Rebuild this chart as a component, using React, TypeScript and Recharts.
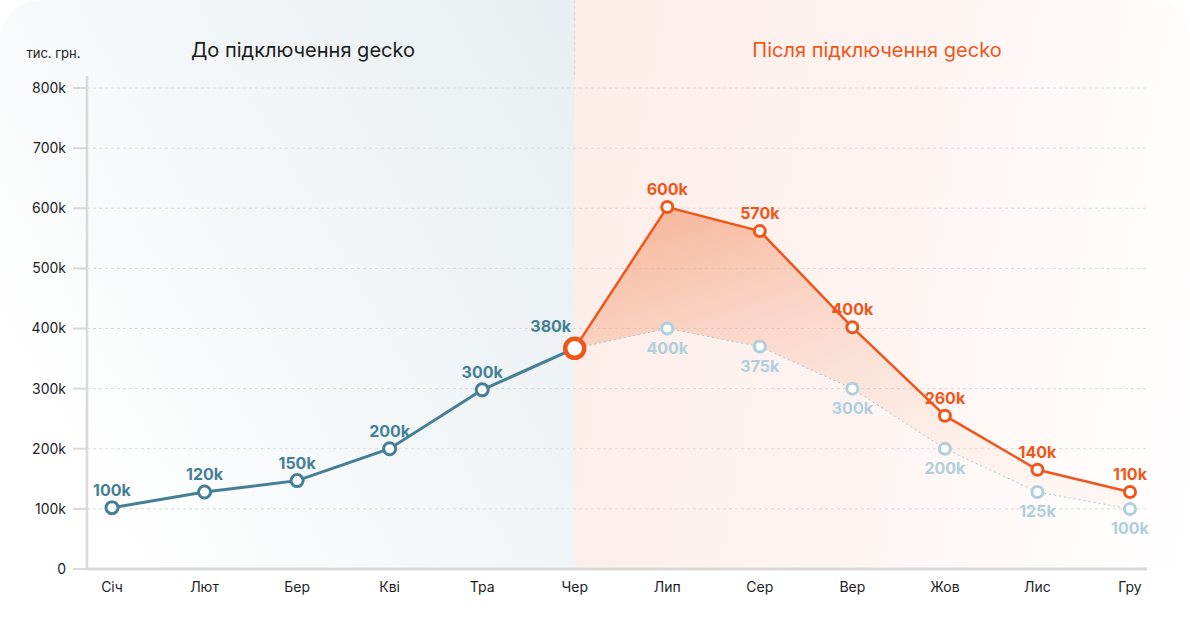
import React from 'react';
import {
  ComposedChart,
  Line,
  Area,
  XAxis,
  YAxis,
  CartesianGrid,
  LabelList,
  ReferenceLine,
} from 'recharts';

const months = ['Січ', 'Лют', 'Бер', 'Кві', 'Тра', 'Чер', 'Лип', 'Сер', 'Вер', 'Жов', 'Лис', 'Гру'];
const beforeValues = [102000, 128000, 147000, 200000, 298000, 367000, null, null, null, null, null, null];
const afterValues = [null, null, null, null, null, 367000, 602000, 562000, 402000, 255000, 165000, 128000];
const baselineValues = [null, null, null, null, null, 367000, 400000, 370000, 300000, 200000, 128000, 100000];
const beforeLabels = ['100k', '120k', '150k', '200k', '300k', '380k', '', '', '', '', '', ''];
const afterLabels = ['', '', '', '', '', '', '600k', '570k', '400k', '260k', '140k', '110k'];
const baselineLabels = ['', '', '', '', '', '', '400k', '375k', '300k', '200k', '125k', '100k'];
const yTicks = [0, 100000, 200000, 300000, 400000, 500000, 600000, 700000, 800000];

const data = months.map((m, i) => ({
  month: m,
  before: beforeValues[i],
  after: afterValues[i],
  baseline: baselineValues[i],
  range:
    afterValues[i] != null && baselineValues[i] != null
      ? [baselineValues[i], afterValues[i]]
      : null,
}));

const FONT = 'Inter, "Noto Sans", sans-serif';
const BLUE = '#457f96';
const ORANGE = '#ef561a';
const LIGHT = '#aecfdb';
const LIGHT_LINE = '#a7c6d2';
const SPLIT = 5;

// layout constants
const W = 1190;
const H = 628;
const Y_W = 87;
const M_RIGHT = 43;
const PAD_L = 25;
const PAD_R = 17;
const STEP = (W - Y_W - M_RIGHT - PAD_L - PAD_R) / (months.length - 1);
const SPLIT_X = Math.round(Y_W + PAD_L + SPLIT * STEP);

const fmt = (v: number) => (v === 0 ? '0' : `${v / 1000}k`);

const blueDot = (props: any) => {
  const { cx, cy, index } = props;
  if (cx == null || cy == null || index >= SPLIT) return <g key={`bd-${index}`} />;
  return <circle key={`bd-${index}`} cx={cx} cy={cy} r={6} fill="#fff" stroke={BLUE} strokeWidth={3} />;
};

const orangeDot = (props: any) => {
  const { cx, cy, index } = props;
  if (cx == null || cy == null || index < SPLIT) return <g key={`od-${index}`} />;
  if (index === SPLIT)
    return <circle key={`od-${index}`} cx={cx} cy={cy} r={9.5} fill="#fff" stroke={ORANGE} strokeWidth={4.5} />;
  return <circle key={`od-${index}`} cx={cx} cy={cy} r={5.5} fill="#fff" stroke={ORANGE} strokeWidth={3} />;
};

const grayDot = (props: any) => {
  const { cx, cy, index } = props;
  if (cx == null || cy == null || index <= SPLIT) return <g key={`gd-${index}`} />;
  return <circle key={`gd-${index}`} cx={cx} cy={cy} r={5.5} fill="#fff" stroke={LIGHT} strokeWidth={3} />;
};

const makeLabel = (labels: string[], color: string, below: boolean) => (props: any) => {
  const { x, y, index } = props;
  const text = labels[index];
  if (!text || x == null || y == null) return null;
  let dx = 0;
  let dy = below ? 25 : -12;
  if (!below && index === SPLIT) {
    dx = -24;
    dy = -16;
  }
  return (
    <text
      x={x + dx}
      y={y + dy}
      textAnchor="middle"
      fill={color}
      fontFamily={FONT}
      fontSize={16}
      fontWeight={700}
    >
      {text}
    </text>
  );
};

const dividerShape = (props: any) => {
  const { x1, x2, y2 } = props;
  return <line x1={x1} y1={0} x2={x2} y2={y2} stroke="#d6d6d6" strokeWidth={1} strokeDasharray="3 3" />;
};

export default function App() {
  return (
    <div
      style={{
        position: 'fixed',
        left: 0,
        top: 0,
        width: W,
        height: H,
        background: '#fff',
        overflow: 'hidden',
        fontFamily: FONT,
      }}
    >
      <div
        style={{
          position: 'absolute',
          left: 0,
          top: 0,
          width: SPLIT_X,
          height: 569,
          borderTopLeftRadius: 40,
          background: 'linear-gradient(60deg, #ffffff 15%, #f4f7f8 50%, #e8eef1 100%)',
        }}
      />
      <div
        style={{
          position: 'absolute',
          left: SPLIT_X,
          top: 0,
          width: W - SPLIT_X,
          height: 569,
          borderTopRightRadius: 40,
          background: 'linear-gradient(100deg, #fdede8 0%, #fdf3f0 45%, #fffbfa 80%, #ffffff 100%)',
        }}
      />
      <div
        style={{
          position: 'absolute',
          left: 0,
          top: 45,
          width: 107,
          textAlign: 'center',
          fontSize: 13,
          color: '#1d1d1f',
        }}
      >
        тис. грн.
      </div>
      <div
        style={{
          position: 'absolute',
          left: 103,
          top: 38,
          width: 400,
          textAlign: 'center',
          fontSize: 20,
          color: '#1a1a1a',
        }}
      >
        До підключення gecko
      </div>
      <div
        style={{
          position: 'absolute',
          left: 677,
          top: 38,
          width: 400,
          textAlign: 'center',
          fontSize: 20,
          color: ORANGE,
        }}
      >
        Після підключення gecko
      </div>
      <div style={{ position: 'absolute', left: 0, top: 0 }}>
        <ComposedChart
          width={W}
          height={H}
          data={data}
          margin={{ top: 76, right: M_RIGHT, bottom: 29, left: 0 }}
        >
          <defs>
            <linearGradient id="rangeFill" x1="0" y1="0" x2="0.5" y2="1">
              <stop offset="0%" stopColor="#f08a5c" stopOpacity={0.62} />
              <stop offset="45%" stopColor="#f5a07c" stopOpacity={0.32} />
              <stop offset="100%" stopColor="#fbd2c0" stopOpacity={0.15} />
            </linearGradient>
          </defs>
          <CartesianGrid
            vertical={false}
            stroke="#d9d9d9"
            strokeDasharray="3 3"
            horizontalValues={yTicks}
          />
          <ReferenceLine x="Чер" shape={dividerShape} ifOverflow="visible" />
          <XAxis
            dataKey="month"
            type="category"
            interval={0}
            padding={{ left: PAD_L, right: PAD_R }}
            axisLine={{ stroke: '#d9d9d9', strokeWidth: 3 }}
            tickLine={false}
            tickSize={6}
            tickMargin={7}
            height={30}
            tick={{ fill: '#1d1d1f', fontSize: 14, fontFamily: FONT }}
          />
          <YAxis
            type="number"
            domain={[0, 820000]}
            ticks={yTicks}
            tickFormatter={fmt}
            width={Y_W}
            axisLine={{ stroke: '#d9d9d9', strokeWidth: 2.5 }}
            tickLine={{ stroke: '#d9d9d9', strokeWidth: 2 }}
            tickSize={14}
            tickMargin={7}
            tick={{ fill: '#1d1d1f', fontSize: 14, fontFamily: FONT }}
          />
          <Area
            dataKey="range"
            type="linear"
            stroke="none"
            fill="url(#rangeFill)"
            fillOpacity={1}
            isAnimationActive={false}
            activeDot={false}
          />
          <Line
            dataKey="baseline"
            type="linear"
            stroke={LIGHT_LINE}
            strokeWidth={1}
            strokeDasharray="2 3"
            dot={grayDot}
            activeDot={false}
            isAnimationActive={false}
          >
            <LabelList dataKey="baseline" content={makeLabel(baselineLabels, LIGHT, true)} />
          </Line>
          <Line
            dataKey="before"
            type="linear"
            stroke={BLUE}
            strokeWidth={3}
            dot={blueDot}
            activeDot={false}
            isAnimationActive={false}
          >
            <LabelList dataKey="before" content={makeLabel(beforeLabels, BLUE, false)} />
          </Line>
          <Line
            dataKey="after"
            type="linear"
            stroke={ORANGE}
            strokeWidth={2.5}
            dot={orangeDot}
            activeDot={false}
            isAnimationActive={false}
          >
            <LabelList dataKey="after" content={makeLabel(afterLabels, ORANGE, false)} />
          </Line>
        </ComposedChart>
      </div>
    </div>
  );
}
